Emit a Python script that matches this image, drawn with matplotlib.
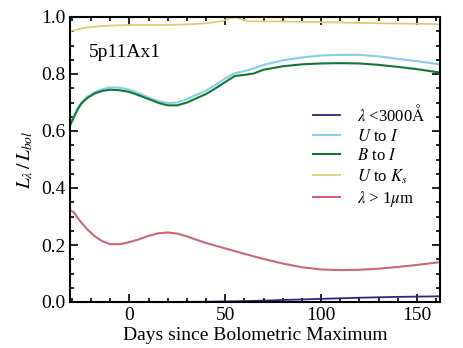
import numpy as np
import matplotlib
matplotlib.use("Agg")
import matplotlib.pyplot as plt
from matplotlib.ticker import MultipleLocator

plt.rcParams['font.family'] = ['Liberation Serif', 'DejaVu Serif']
plt.rcParams['mathtext.fontset'] = 'stix'

# U to Ks
days_uk = [-31, -25, -20, -10, 0, 10, 20, 30, 40, 48, 52, 55, 58, 62, 80, 100, 130, 162]
frac_uk = [0.950, 0.960, 0.965, 0.970, 0.972, 0.972, 0.972, 0.974, 0.978, 0.985, 0.995, 1.000, 0.993, 0.985, 0.984, 0.982, 0.978, 0.975]

# U to I
days_ui = [-31, -29, -27, -25, -22, -18, -14, -10, -5, 0, 5, 10, 15, 20, 25, 30, 35, 40, 45, 50, 55, 60, 65, 70, 80, 90, 100, 110, 120, 130, 140, 150, 162]
frac_ui = [0.620, 0.650, 0.680, 0.700, 0.720, 0.737, 0.747, 0.753, 0.752, 0.745, 0.732, 0.718, 0.705, 0.698, 0.700, 0.712, 0.727, 0.742, 0.762, 0.785, 0.803, 0.810, 0.820, 0.832, 0.848, 0.858, 0.865, 0.867, 0.867, 0.862, 0.853, 0.845, 0.834]

# B to I
days_bi = [-31, -29, -27, -25, -22, -18, -14, -10, -5, 0, 5, 10, 15, 20, 25, 30, 35, 40, 45, 50, 55, 60, 65, 70, 80, 90, 100, 110, 120, 130, 140, 150, 162]
frac_bi = [0.620, 0.648, 0.676, 0.697, 0.716, 0.732, 0.741, 0.745, 0.743, 0.737, 0.725, 0.712, 0.699, 0.690, 0.690, 0.700, 0.715, 0.730, 0.750, 0.772, 0.793, 0.797, 0.802, 0.815, 0.827, 0.834, 0.837, 0.838, 0.837, 0.832, 0.825, 0.817, 0.805]

# lambda > 1 micron
days_ir = [-31, -29, -27, -25, -22, -18, -14, -10, -5, 0, 5, 10, 15, 20, 25, 30, 40, 50, 60, 70, 80, 90, 100, 110, 120, 130, 140, 150, 162]
frac_ir = [0.322, 0.315, 0.295, 0.278, 0.255, 0.230, 0.213, 0.203, 0.203, 0.210, 0.220, 0.232, 0.241, 0.244, 0.240, 0.230, 0.207, 0.188, 0.169, 0.151, 0.135, 0.122, 0.114, 0.112, 0.113, 0.117, 0.123, 0.130, 0.140]

# lambda < 3000 A
days_uv = [-31, 0, 20, 40, 60, 80, 100, 120, 140, 162]
frac_uv = [0.0, 0.0, 0.0, 0.001, 0.003, 0.007, 0.011, 0.015, 0.018, 0.020]

fig = plt.figure(figsize=(4.63, 3.48), dpi=100)
ax = fig.add_axes([70/463, 1 - 302/348, 370/463, 285/348])

ax.plot(days_uv, frac_uv, color='#332288', lw=1.3, label=r'$\lambda$ <3000$\mathrm{\AA}$')
ax.plot(days_ui, frac_ui, color='#88CCEE', lw=1.5, label=r'$U$ to $I$')
ax.plot(days_bi, frac_bi, color='#117733', lw=1.5, label=r'$B$ to $I$')
ax.plot(days_uk, frac_uk, color='#DDCC77', lw=1.3, label=r'$U$ to $K_s$')
ax.plot(days_ir, frac_ir, color='#CC6677', lw=1.5, label=r'$\lambda$ > 1$\mu$m')

ax.set_xlim(-31, 162)
ax.set_ylim(0, 1.0)
ax.xaxis.set_major_locator(MultipleLocator(50))
ax.xaxis.set_minor_locator(MultipleLocator(10))
ax.yaxis.set_major_locator(MultipleLocator(0.2))
ax.yaxis.set_minor_locator(MultipleLocator(0.05))
ax.tick_params(which='both', direction='in', top=True, right=True, labelsize=14, width=1.2)
ax.tick_params(which='major', length=6)
ax.tick_params(which='minor', length=3)
for s in ax.spines.values():
    s.set_linewidth(1.5)

ax.set_xlabel('Days since Bolometric Maximum', fontsize=14, labelpad=2)
ax.set_ylabel(r'$L_\lambda\,/\,L_{bol}$', fontsize=14)
ax.text(0.05, 0.86, '5p11Ax1', transform=ax.transAxes, fontsize=14)

leg = ax.legend(loc='center right', bbox_to_anchor=(1.0, 0.51), frameon=False, fontsize=12,
                handlelength=1.6, handletextpad=1.0, labelspacing=0.2)

fig.savefig('out.png', dpi=100)
